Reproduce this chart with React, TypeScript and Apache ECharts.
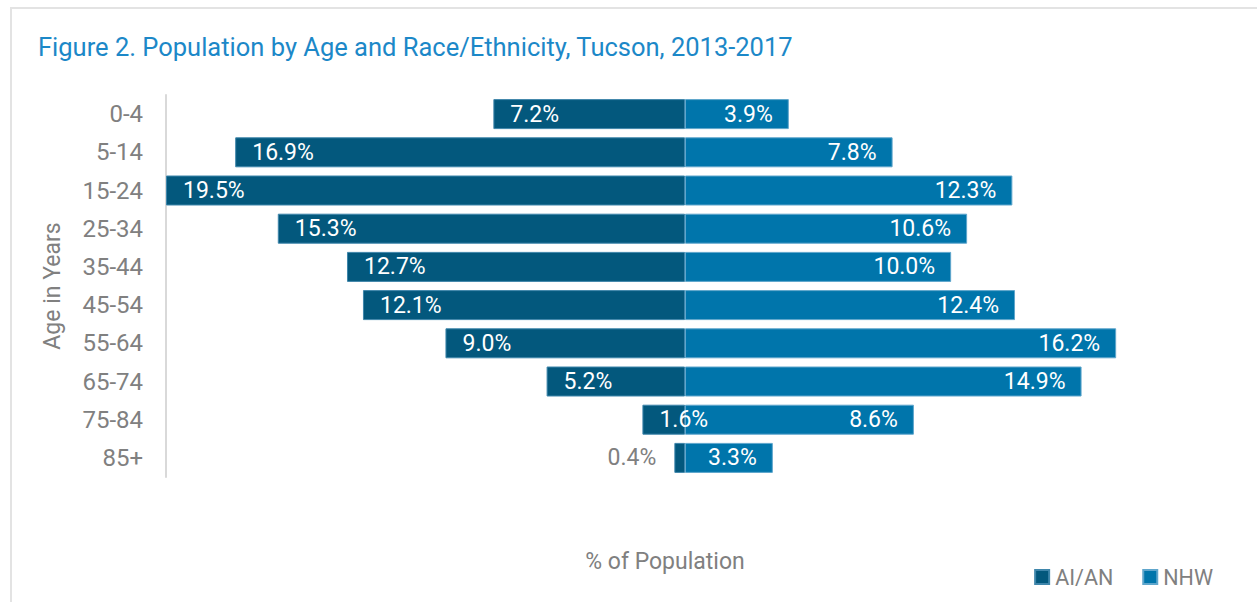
import React, { useEffect, useRef } from "react";
import * as echarts from "echarts";

const categories = ["0-4", "5-14", "15-24", "25-34", "35-44", "45-54", "55-64", "65-74", "75-84", "85+"];
const aianValues = [7.2, 16.9, 19.5, 15.3, 12.7, 12.1, 9.0, 5.2, 1.6, 0.4];
const nhwValues = [3.9, 7.8, 12.3, 10.6, 10.0, 12.4, 16.2, 14.9, 8.6, 3.3];
const seriesNames = ["AI/AN", "NHW"];
const titleText = "Figure 2. Population by Age and Race/Ethnicity, Tucson, 2013-2017";

const FONT = "Roboto, 'Liberation Sans', Arial, sans-serif";
const GRAY = "#808080";
const DARK = "#03587d";
const LIGHT = "#0075ab";

export default function App() {
  const ref = useRef<HTMLDivElement>(null);
  useEffect(() => {
    if (!ref.current) return;
    const chart = echarts.init(ref.current, null, { renderer: "svg" });
    const fmt = (p: any) => Math.abs(p.value).toFixed(1) + "%";
    chart.setOption({
      animation: false,
      backgroundColor: "#ffffff",
      textStyle: { fontFamily: FONT },
      graphic: [
        {
          type: "rect",
          shape: { x: 11, y: 8, width: 1400, height: 800 },
          style: { fill: "none", stroke: "#e3e3e3", lineWidth: 2 },
          silent: true,
        },
        {
          type: "text",
          x: 38,
          y: 47,
          style: {
            text: titleText,
            fill: "#1c88c8",
            font: `25.5px ${FONT}`,
            verticalAlign: "middle",
          },
        },
        {
          type: "text",
          x: 665,
          y: 561,
          style: {
            text: "% of Population",
            fill: GRAY,
            font: `23px ${FONT}`,
            align: "center",
            verticalAlign: "middle",
          },
        },
      ],
      legend: {
        data: seriesNames,
        right: 39,
        top: 561,
        icon: "rect",
        itemWidth: 14,
        itemHeight: 14,
        itemGap: 29,
        textStyle: { color: GRAY, fontSize: 21.5, fontFamily: FONT, padding: [0, 0, 0, 1] },
      },
      grid: { left: 166, right: 53, top: 95, bottom: 125, containLabel: false },
      xAxis: {
        type: "value",
        min: -19.5,
        max: 19.5,
        axisLine: { show: false },
        axisTick: { show: false },
        axisLabel: { show: false },
        splitLine: { show: false },
      },
      yAxis: {
        type: "category",
        data: categories,
        inverse: true,
        name: "Age in Years",
        nameLocation: "middle",
        nameGap: 102,
        nameTextStyle: { color: GRAY, fontSize: 23, fontFamily: FONT },
        axisLine: { show: true, onZero: false, lineStyle: { color: "#d9d9d9", width: 2 } },
        axisTick: { show: false },
        axisLabel: { color: GRAY, fontSize: 24, fontFamily: FONT, margin: 23 },
      },
      series: [
        {
          name: seriesNames[0],
          type: "bar",
          stack: "total",
          barWidth: 30,
          itemStyle: { color: DARK, borderColor: "#3f86ab", borderWidth: 1 },
          label: {
            show: true,
            position: "insideLeft",
            distance: 17,
            color: "#ffffff",
            fontSize: 23,
            fontFamily: FONT,
            formatter: fmt,
          },
          data: aianValues.map((v, i) =>
            i === aianValues.length - 1
              ? { value: -v, label: { position: "left", distance: 18, color: GRAY } }
              : -v
          ),
        },
        {
          name: seriesNames[1],
          type: "bar",
          stack: "total",
          barWidth: 30,
          itemStyle: { color: LIGHT, borderColor: "#5fa6cc", borderWidth: 1 },
          label: {
            show: true,
            position: "insideRight",
            distance: 16,
            color: "#ffffff",
            fontSize: 23,
            fontFamily: FONT,
            formatter: fmt,
          },
          data: nhwValues,
        },
      ],
    });
    return () => chart.dispose();
  }, []);
  return (
    <div
      ref={ref}
      style={{ position: "fixed", left: 0, top: 0, width: 1257, height: 602 }}
    />
  );
}
